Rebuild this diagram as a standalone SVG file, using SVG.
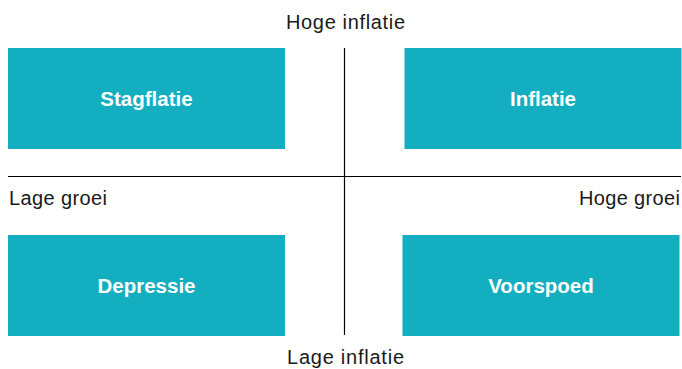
<svg xmlns="http://www.w3.org/2000/svg" width="682" height="369" viewBox="0 0 682 369">
<style>
.box{fill:#13AFC0}
.lbl{font-family:"Liberation Sans",Arial,sans-serif;font-weight:bold;font-size:20.5px;fill:#fff;text-anchor:middle}
.ax{font-family:"Liberation Sans",Arial,sans-serif;font-size:20px;fill:#1a1a1a}
.line{stroke:#000;stroke-width:1.2;fill:none}
</style>
<rect width="682" height="369" fill="#fff"/>
<g id="connectors">
<line class="line" x1="344.5" y1="48" x2="344.5" y2="335"/>
<line class="line" x1="8" y1="176.5" x2="681" y2="176.5"/>
</g>
<g id="stagflatie"><rect class="box" x="8" y="48" width="277" height="101"/><text class="lbl" x="146.5" y="106">Stagflatie</text></g>
<g id="inflatie"><rect class="box" x="404.5" y="48" width="277" height="101"/><text class="lbl" x="543" y="106">Inflatie</text></g>
<g id="depressie"><rect class="box" x="8" y="235" width="277" height="101"/><text class="lbl" x="146.5" y="293">Depressie</text></g>
<g id="voorspoed"><rect class="box" x="402.5" y="235" width="277" height="101"/><text class="lbl" x="541" y="293">Voorspoed</text></g>
<text class="ax" x="345.5" y="29" text-anchor="middle" textLength="119">Hoge inflatie</text>
<text class="ax" x="345.5" y="364" text-anchor="middle" textLength="117">Lage inflatie</text>
<text class="ax" x="9" y="205" textLength="98">Lage groei</text>
<text class="ax" x="680" y="205" text-anchor="end" textLength="101">Hoge groei</text>
</svg>
